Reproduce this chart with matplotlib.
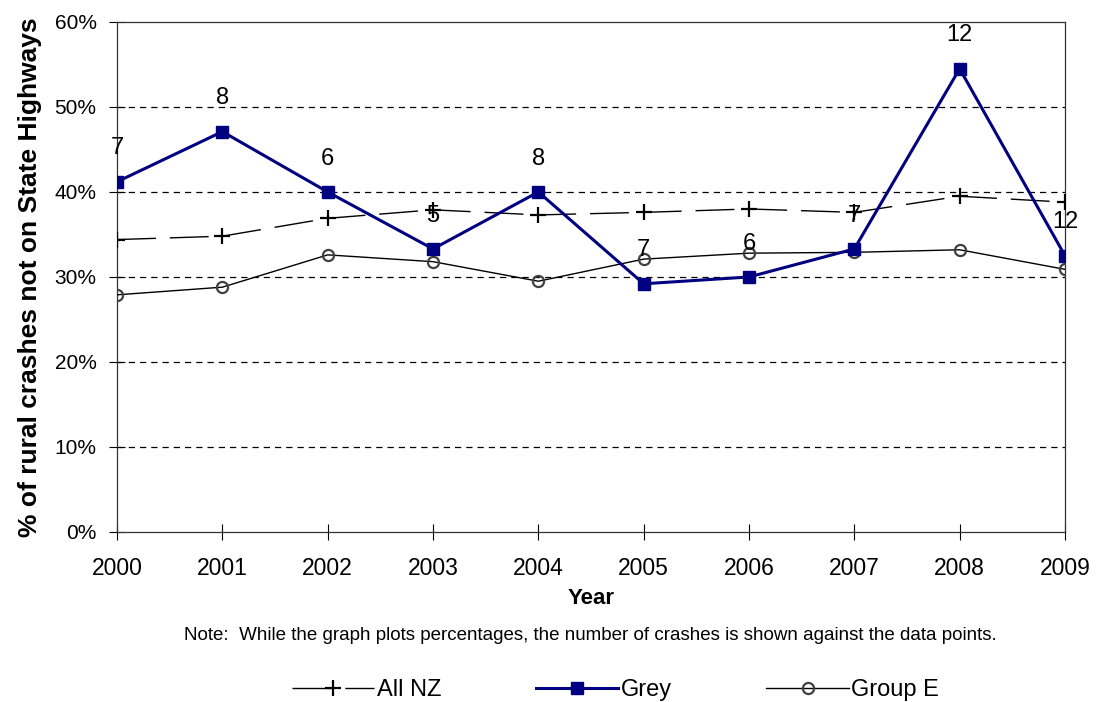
import matplotlib
matplotlib.use("Agg")
import matplotlib.pyplot as plt
from matplotlib.ticker import PercentFormatter

plt.rcParams['font.family'] = ['Liberation Sans', 'DejaVu Sans']

years = [2000, 2001, 2002, 2003, 2004, 2005, 2006, 2007, 2008, 2009]
all_nz = [34.4, 34.8, 36.9, 37.9, 37.3, 37.6, 38.0, 37.6, 39.5, 38.8]
grey = [41.2, 47.1, 40.0, 33.3, 40.0, 29.2, 30.0, 33.3, 54.5, 32.5]
group_e = [27.9, 28.8, 32.6, 31.8, 29.5, 32.1, 32.8, 32.9, 33.2, 30.9]
grey_counts = [7, 8, 6, 5, 8, 7, 6, 7, 12, 12]

fig = plt.figure(figsize=(10.96, 7.02), dpi=100)
ax = fig.add_axes([0.1068, 0.2422, 0.8649, 0.7265])

ax.plot(years, all_nz, color='black', lw=1, dashes=(28, 10), marker='+',
        ms=11, mew=1.6, label='All NZ', zorder=3)
ax.plot(years, grey, color='#000080', lw=2.2, marker='s', ms=9,
        label='Grey', zorder=4)
ax.plot(years, group_e, color='black', lw=1, marker='o', ms=8, mfc='none',
        mec='#404040', mew=1.6, label='Group E', zorder=3)

# crash counts above the Grey points
for x, y, n in zip(years, grey, grey_counts):
    ax.annotate(str(n), (x, y), xytext=(0, 24), textcoords='offset points',
                ha='center', va='center', fontsize=17, zorder=5)

ax.set_xlim(2000, 2009)
ax.set_ylim(0, 60)
ax.set_xticks(years)
ax.set_yticks(range(0, 61, 10))
ax.yaxis.set_major_formatter(PercentFormatter(decimals=0))
for v in range(10, 60, 10):
    ax.axhline(v, color='black', lw=0.9, ls=(0, (5, 4)), zorder=1)

ax.tick_params(axis='both', direction='inout', length=11.5, width=0.8)
ax.tick_params(axis='x', pad=12, labelsize=16.5)
ax.tick_params(axis='y', pad=9, labelsize=15)
for s in ax.spines.values():
    s.set_linewidth(0.9)
    s.set_color('#333333')

ax.set_xlabel('Year', fontsize=16, fontweight='bold', labelpad=6)
ax.set_ylabel('% of rural crashes not on State Highways', fontsize=19,
              fontweight='bold')
ax.yaxis.set_label_coords(-0.079, 0.5)

fig.text(0.539, 0.0954, 'Note:  While the graph plots percentages, the number of crashes is shown against the data points.',
         ha='center', va='center', fontsize=13.5)

fig.legend(loc='center', bbox_to_anchor=(0.5616, 0.017), ncol=3, frameon=False,
           fontsize=17, handlelength=3.5, columnspacing=4.0,
           handletextpad=0.1)

fig.savefig('out.png', dpi=100)
